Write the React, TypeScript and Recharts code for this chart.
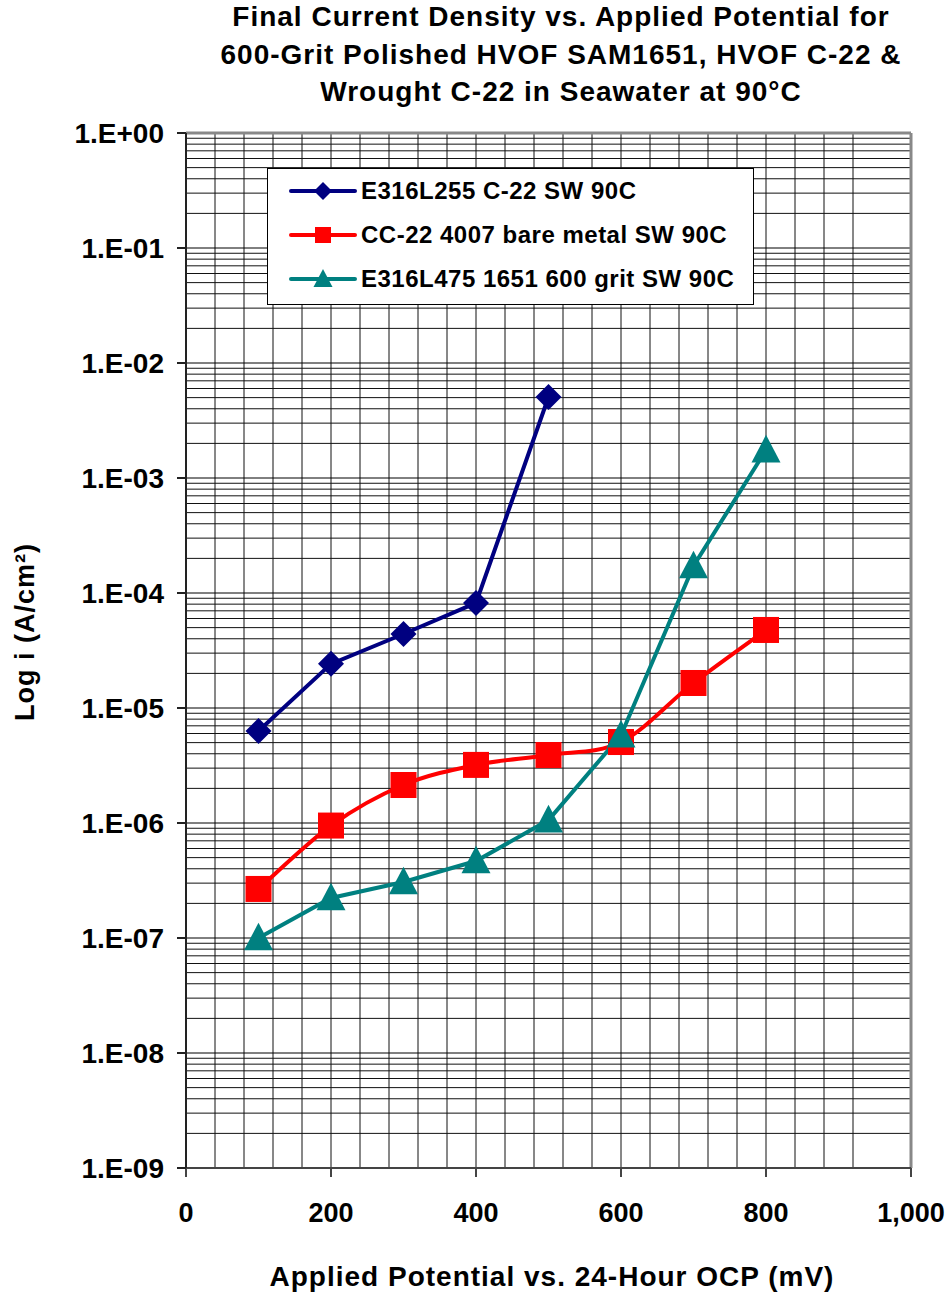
import { LineChart, Line, XAxis, YAxis, CartesianGrid, ReferenceLine } from "recharts";

const potentials = [100, 200, 300, 400, 500, 600, 700, 800];

const e316l255 = [6.3e-6, 2.42e-5, 4.4e-5, 8.2e-5, 5.06e-3];
const cc22 = [2.67e-7, 9.5e-7, 2.14e-6, 3.2e-6, 3.9e-6, 5.06e-6, 1.65e-5, 4.77e-5];
const e316l475 = [1.0e-7, 2.23e-7, 3.07e-7, 4.67e-7, 1.06e-6, 5.8e-6, 1.72e-4, 1.75e-3];

const seriesNames = [
  "E316L255 C-22 SW 90C",
  "CC-22 4007 bare metal SW 90C",
  "E316L475 1651 600 grit SW 90C",
];

const xTicks = [0, 200, 400, 600, 800, 1000];
const yTicks = [1e-9, 1e-8, 1e-7, 1e-6, 1e-5, 1e-4, 1e-3, 1e-2, 1e-1, 1];

const xGrid = Array.from({ length: 26 }, (_, i) => i * 40);
const yMinor: number[] = [];
for (let e = -9; e < 0; e++) {
  for (let m = 2; m <= 9; m++) yMinor.push(m * Math.pow(10, e));
}

const data = potentials.map((x, i) => ({
  x,
  a: e316l255[i],
  b: cc22[i],
  c: e316l475[i],
}));

const BLUE = "#000080";
const RED = "#FF0000";
const TEAL = "#008080";
const FONT = "'Liberation Sans', Arial, sans-serif";

// Excel-like smoothed line (Catmull-Rom through the points)
function smoothCurve(context: any) {
  let pts: [number, number][] = [];
  return {
    areaStart() {},
    areaEnd() {},
    lineStart() {
      pts = [];
    },
    point(x: number, y: number) {
      pts.push([+x, +y]);
    },
    lineEnd() {
      if (!pts.length) return;
      context.moveTo(pts[0][0], pts[0][1]);
      for (let i = 0; i < pts.length - 1; i++) {
        const p0 = pts[i - 1] || pts[i];
        const p1 = pts[i];
        const p2 = pts[i + 1];
        const p3 = pts[i + 2] || p2;
        context.bezierCurveTo(
          p1[0] + (p2[0] - p0[0]) / 6,
          p1[1] + (p2[1] - p0[1]) / 6,
          p2[0] - (p3[0] - p1[0]) / 6,
          p2[1] - (p3[1] - p1[1]) / 6,
          p2[0],
          p2[1]
        );
      }
    },
  };
}

function fmtY(v: number) {
  const e = Math.round(Math.log10(v));
  if (e >= 0) return "1.E+0" + e;
  return "1.E-0" + -e;
}

function Diamond({ cx, cy, r, color }: any) {
  return <path d={`M${cx},${cy - r}L${cx + r},${cy}L${cx},${cy + r}L${cx - r},${cy}Z`} fill={color} />;
}
function Square({ cx, cy, r, color }: any) {
  return <rect x={cx - r} y={cy - r} width={2 * r} height={2 * r} fill={color} />;
}
function Triangle({ cx, cy, r, color }: any) {
  return <path d={`M${cx},${cy - r * 1.05}L${cx + r},${cy + r * 0.85}L${cx - r},${cy + r * 0.85}Z`} fill={color} />;
}

const markerFns = [
  (p: any) => (p.cx == null ? <g key={p.index} /> : <Diamond key={p.index} cx={p.cx} cy={p.cy} r={13} color={BLUE} />),
  (p: any) => (p.cx == null ? <g key={p.index} /> : <Square key={p.index} cx={p.cx} cy={p.cy} r={13} color={RED} />),
  (p: any) => (p.cx == null ? <g key={p.index} /> : <Triangle key={p.index} cx={p.cx} cy={p.cy} r={14.5} color={TEAL} />),
];

function LegendBox() {
  const colors = [BLUE, RED, TEAL];
  return (
    <div
      style={{
        position: "absolute",
        left: 267,
        top: 168,
        width: 487,
        height: 137,
        border: "1px solid #000",
        background: "#fff",
        boxSizing: "border-box",
      }}
    >
      {seriesNames.map((name, i) => (
        <div key={name} style={{ display: "flex", alignItems: "center", height: 43, marginTop: i === 0 ? 0 : 1 }}>
          <svg width={93} height={30} style={{ flex: "none" }}>
            <line x1={23} y1={15} x2={87} y2={15} stroke={colors[i]} strokeWidth={4} strokeLinecap="round" />
            {i === 0 && <Diamond cx={55} cy={15} r={9} color={BLUE} />}
            {i === 1 && <Square cx={55} cy={15} r={8} color={RED} />}
            {i === 2 && <Triangle cx={55} cy={15} r={9.5} color={TEAL} />}
          </svg>
          <span
            style={{
              fontFamily: FONT,
              fontWeight: "bold",
              fontSize: 24,
              letterSpacing: 0.5,
              color: "#000",
              whiteSpace: "nowrap",
            }}
          >
            {name}
          </span>
        </div>
      ))}
    </div>
  );
}

export default function App() {
  return (
    <div style={{ position: "absolute", left: 0, top: 0, width: 951, height: 1295, background: "#fff" }}>
      <LineChart
        width={951}
        height={1295}
        data={data}
        margin={{ top: 133, right: 40, bottom: 0, left: 0 }}
        style={{ position: "absolute", left: 0, top: 0 }}
      >
        <CartesianGrid horizontal={false} verticalValues={xGrid} stroke="#111" strokeWidth={1} />
        {yMinor.map((v) => (
          <ReferenceLine key={"m" + v} y={v} stroke="#111" strokeWidth={1} />
        ))}
        {yTicks.map((v) => (
          <ReferenceLine key={"t" + v} y={v} stroke="#000" strokeWidth={1} />
        ))}
        <XAxis
          dataKey="x"
          type="number"
          domain={[0, 1000]}
          ticks={xTicks}
          height={127}
          tickSize={9}
          tickMargin={26}
          stroke="#444"
          strokeWidth={2}
          tickFormatter={(v: number) => v.toLocaleString("en-US")}
          tick={{ fontFamily: FONT, fontWeight: "bold", fontSize: 27, fill: "#000" }}
        />
        <YAxis
          type="number"
          scale="log"
          domain={[1e-9, 1]}
          allowDataOverflow
          ticks={yTicks}
          width={186}
          tickSize={9}
          tickMargin={13}
          stroke="#222"
          strokeWidth={2}
          tickFormatter={fmtY}
          tick={{ fontFamily: FONT, fontWeight: "bold", fontSize: 28, fill: "#000" }}
        />
        <ReferenceLine y={1} stroke="#888" strokeWidth={3} />
        <ReferenceLine x={1000} stroke="#888" strokeWidth={3} />
        <Line
          dataKey="a"
          type="linear"
          stroke={BLUE}
          strokeWidth={4}
          dot={markerFns[0]}
          activeDot={false}
          isAnimationActive={false}
        />
        <Line
          dataKey="b"
          type={smoothCurve as any}
          stroke={RED}
          strokeWidth={4}
          dot={markerFns[1]}
          activeDot={false}
          isAnimationActive={false}
        />
        <Line
          dataKey="c"
          type="linear"
          stroke={TEAL}
          strokeWidth={4}
          dot={markerFns[2]}
          activeDot={false}
          isAnimationActive={false}
        />
      </LineChart>
      <div
        style={{
          position: "absolute",
          left: 171,
          top: -2,
          width: 780,
          textAlign: "center",
          fontFamily: FONT,
          fontWeight: "bold",
          fontSize: 28,
          letterSpacing: 1,
          lineHeight: "37.5px",
          color: "#000",
        }}
      >
        Final Current Density vs. Applied Potential for
        <br />
        600-Grit Polished HVOF SAM1651, HVOF C-22 &amp;
        <br />
        Wrought C-22 in Seawater at 90°C
      </div>
      <div
        style={{
          position: "absolute",
          left: 152,
          top: 1258,
          width: 800,
          textAlign: "center",
          fontFamily: FONT,
          fontWeight: "bold",
          fontSize: 28,
          letterSpacing: 1,
          lineHeight: "38px",
          color: "#000",
          whiteSpace: "nowrap",
        }}
      >
        Applied Potential vs. 24-Hour OCP (mV)
      </div>
      <svg width={60} height={400} style={{ position: "absolute", left: 0, top: 432 }}>
        <text
          x={0}
          y={0}
          transform="translate(34,200) rotate(-90)"
          textAnchor="middle"
          fontFamily={FONT}
          fontWeight="bold"
          fontSize={27}
          letterSpacing={1}
          fill="#000"
        >
          Log i (A/cm²)
        </text>
      </svg>
      <LegendBox />
    </div>
  );
}
